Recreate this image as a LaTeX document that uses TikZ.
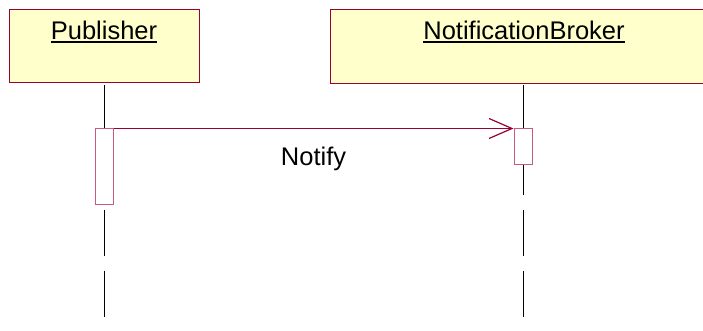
\documentclass[tikz,border=0pt]{standalone}
\usepackage{fontspec}
\setmainfont{Liberation Sans}
\usetikzlibrary{arrows.meta,positioning}
\definecolor{umlred}{RGB}{153,0,51}
\definecolor{umlfill}{RGB}{255,255,204}
\definecolor{actred}{RGB}{200,90,130}

\begin{document}
\begin{tikzpicture}[x=1pt,y=-1pt,
	obj/.style={draw=umlred, fill=umlfill, line width=1pt, minimum height=73pt, inner sep=0pt},
	objname/.style={inner sep=0pt, anchor=base, font=\fontsize{25.5}{28}\selectfont},
	act/.style={draw=actred, fill=white, line width=1pt, minimum width=18pt, inner sep=0pt},
	life/.style={line width=1pt}]
	\useasboundingbox (0,0) rectangle (703,331);
	\node (pub) [obj, minimum width=190pt] at (104,46.5) {};
	\node (brk) [obj, draw=none, minimum width=374pt, anchor=west] at (330,46.5) {};
	\draw [umlred, line width=1pt] (brk.north east) -- (brk.north west) -- (brk.south west) -- (brk.south east);
	\node (pubname) [objname] at (104,40) {Publisher};
	\node (brkname) [objname] at (524,40) {NotificationBroker};
	\draw [line width=1.2pt] ([yshift=-2pt]pubname.base west) -- ([yshift=-2pt]pubname.base east);
	\draw [line width=1.2pt] ([yshift=-2pt]brkname.base west) -- ([yshift=-2pt]brkname.base east);
	\node (pubact) [act, minimum height=75pt] at (104,166.5) {};
	\node (brkact) [act, minimum height=36pt] at (523,147) {};
	\coordinate (pubend) at (104,317);
	\coordinate (brkend) at (523,317);
	\draw [life] ([yshift=-2pt]pub.south) -- (pubact.north);
	\draw [life] ([yshift=-2pt]brk.south -| brkact.north) -- (brkact.north);
	\draw [life, dash pattern=on 46pt off 15pt, dash phase=56pt] (pubact.south) -- (pubend);
	\draw [life, dash pattern=on 46pt off 15pt, dash phase=17pt] (brkact.south) -- (brkend);
	\draw [umlred, line width=1.2pt, -{Straight Barb[length=23pt, width=20pt]}] (pubact.north east) -- node [midway, below=18pt, inner sep=0pt, text=black, font=\fontsize{25.5}{28}\selectfont] (msg) {Notify} (brkact.north west);
\end{tikzpicture}
\end{document}
